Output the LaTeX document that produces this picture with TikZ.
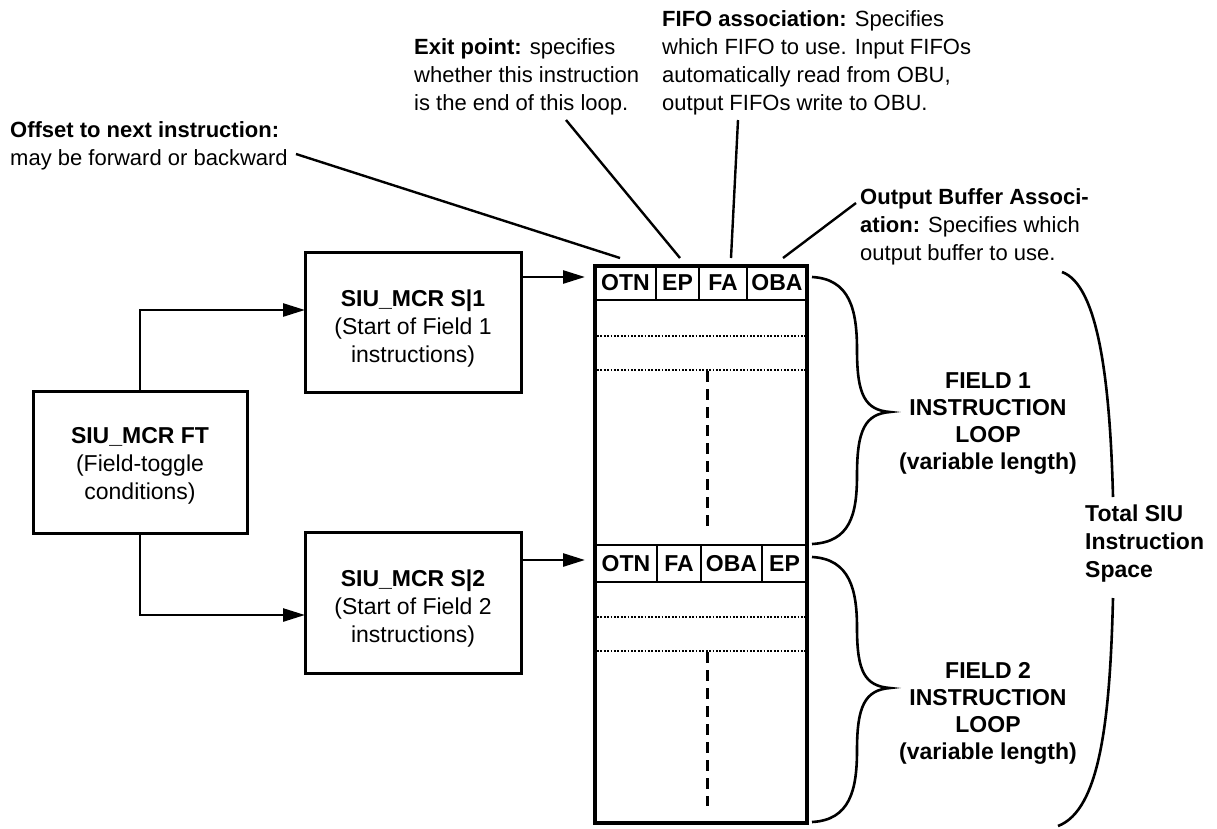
\documentclass[tikz,border=0pt]{standalone}
\usepackage{fontspec}
\setmainfont{Liberation Sans}
\usetikzlibrary{arrows.meta}
\newcommand\boxfnt{\fontsize{23}{28}\selectfont}
\newcommand\notefnt{\fontsize{22}{28}\selectfont}
\newcommand\lblfnt{\fontsize{23}{27}\selectfont}
\begin{document}
\begin{tikzpicture}[x=1pt,y=-1pt,
  blk/.style={draw, line width=3pt, inner sep=0pt},
  blktxt/.style={align=center, font=\boxfnt, inner sep=0pt},
  arr/.style={line width=2.6pt, -{Triangle[length=22pt,width=13pt]}},
  note/.style={align=left, font=\notefnt, inner sep=0pt, anchor=base west},
  lbl/.style={align=center, font=\lblfnt\bfseries, inner sep=0pt, anchor=base},
  cell/.style={draw, line width=1.8pt, font=\boxfnt\bfseries, inner sep=0pt},
  lead/.style={line width=2.4pt},
  brc/.style={line width=2.6pt},
  dotl/.style={line width=1.5pt, dash pattern=on 1.8pt off 1.6pt},
  dashl/.style={line width=3pt, dash pattern=on 11pt off 7pt}]
\useasboundingbox (0,0) rectangle (1217,828);
% left boxes
\node[blk, minimum width=214pt, minimum height=142pt] (ft) at (140,462) {};
\node[blktxt] (ftt) at (140,466) {\textbf{SIU\_MCR FT}\\(Field-toggle\\conditions)};
\node[blk, minimum width=216pt, minimum height=140pt] (s1) at (413,322) {};
\node[blktxt] (s1t) at (413,329) {\textbf{SIU\_MCR S|1}\\(Start of Field 1\\instructions)};
\node[blk, minimum width=216pt, minimum height=141pt] (s2) at (413,602.5) {};
\node[blktxt] (s2t) at (413,609) {\textbf{SIU\_MCR S|2}\\(Start of Field 2\\instructions)};
\coordinate (a1) at (305,310);
\coordinate (a2) at (305,615);
\draw[arr] (ft.north) |- (a1);
\draw[arr] (ft.south) |- (a2);
% memory block
\node[draw, line width=3.4pt, minimum width=212pt, minimum height=557pt, inner sep=0pt] (mem) at (701,544.5) {};
% header 1
\node[cell, minimum width=61pt, minimum height=34pt] (h1a) at (625.5,283) {OTN};
\node[cell, minimum width=43pt, minimum height=34pt] (h1b) at (677.5,283) {EP};
\node[cell, minimum width=48pt, minimum height=34pt] (h1c) at (723,283) {FA};
\node[cell, minimum width=60pt, minimum height=34pt] (h1d) at (777,283) {OBA};
% header 2
\node[cell, minimum width=62pt, minimum height=37pt] (h2a) at (626,563.5) {OTN};
\node[cell, minimum width=44pt, minimum height=37pt] (h2b) at (679,563.5) {FA};
\node[cell, minimum width=61pt, minimum height=37pt] (h2c) at (731.5,563.5) {OBA};
\node[cell, minimum width=45pt, minimum height=37pt] (h2d) at (784.5,563.5) {EP};
% dotted rows
\coordinate (d1l) at (597,336); \coordinate (d1r) at (805,336);
\coordinate (d2l) at (597,370); \coordinate (d2r) at (805,370);
\coordinate (d3l) at (597,617); \coordinate (d3r) at (805,617);
\coordinate (d4l) at (597,651); \coordinate (d4r) at (805,651);
\draw[dotl] (d1l) -- (d1r);
\draw[dotl] (d2l) -- (d2r);
\draw[dotl] (d3l) -- (d3r);
\draw[dotl] (d4l) -- (d4r);
\coordinate (v1t) at (707,371); \coordinate (v1b) at (707,528);
\coordinate (v2t) at (707,652); \coordinate (v2b) at (707,806);
\draw[dashl] (v1t) -- (v1b);
\draw[dashl] (v2t) -- (v2b);
% arrows into memory
\coordinate (t1) at (585,277);
\coordinate (t2) at (585,560);
\draw[arr] (s1.east |- t1) -- (t1);
\draw[arr] (s2.east |- t2) -- (t2);
% annotations
\node[note] (n1) at (10,165) {\textbf{Offset to next instruction:}\\may be forward or backward};
\node[note] (n2) at (414,110) {\textbf{Exit point:} specifies\\whether this instruction\\is the end of this loop.};
\node[note] (n3) at (662,110) {\textbf{FIFO association:} Specifies\\which FIFO to use. Input FIFOs\\automatically read from OBU,\\output FIFOs write to OBU.};
\node[note] (n4) at (860,260) {\textbf{Output Buffer Associ-}\\\textbf{ation:} Specifies which\\output buffer to use.};
\coordinate (l1a) at (296,154); \coordinate (l1b) at (620,258);
\coordinate (l2a) at (566,120); \coordinate (l2b) at (680,258);
\coordinate (l3a) at (738,120); \coordinate (l3b) at (731,258);
\coordinate (l4a) at (856,203); \coordinate (l4b) at (783,258);
\draw[lead] (l1a) -- (l1b);
\draw[lead] (l2a) -- (l2b);
\draw[lead] (l3a) -- (l3b);
\draw[lead] (l4b) -- (l4a);
% braces
\draw[brc] (812,277) .. controls (850,279) and (857,310) .. (857,350)
  .. controls (857,395) and (865,410) .. (890,412)
  .. controls (865,414) and (857,430) .. (857,475)
  .. controls (857,515) and (850,542) .. (812,544);
\draw[brc] (812,557) .. controls (850,559) and (857,590) .. (857,628)
  .. controls (857,672) and (865,686) .. (890,688)
  .. controls (865,690) and (857,706) .. (857,750)
  .. controls (857,790) and (850,820) .. (812,822);
\draw[brc] (1062,272) .. controls (1098,285) and (1110,380) .. (1113,497);
\draw[brc] (1113,598) .. controls (1110,720) and (1100,810) .. (1058,826);
% brace labels
\node[lbl] (f1) at (988,469) {FIELD 1\\INSTRUCTION\\LOOP\\(variable length)};
\node[lbl] (f2) at (988,759) {FIELD 2\\INSTRUCTION\\LOOP\\(variable length)};
\node[note, font=\boxfnt\bfseries] (tot) at (1085,577) {Total SIU\\Instruction\\Space};
\end{tikzpicture}
\end{document}
